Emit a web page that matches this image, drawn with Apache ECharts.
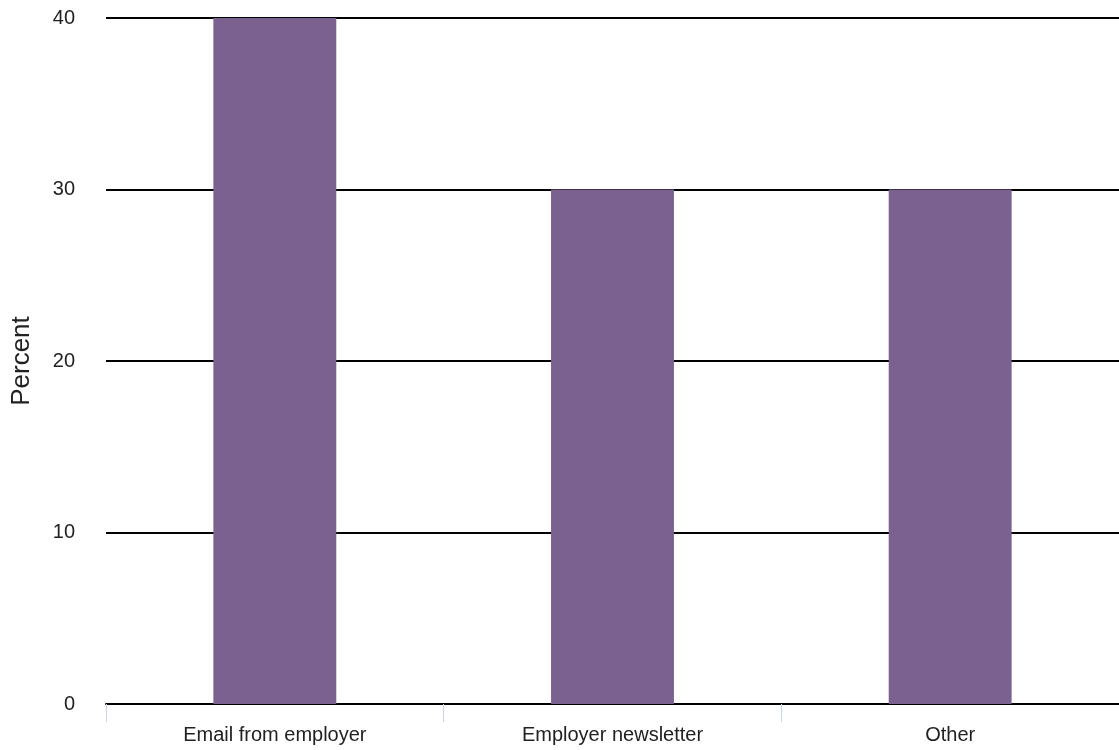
<!DOCTYPE html>
<html>
<head>
<meta charset="utf-8">
<script src="https://cdn.jsdelivr.net/npm/echarts@6/dist/echarts.min.js"></script>
<style>html,body{margin:0;padding:0;background:#fff;}#c{width:1119px;height:750px;}</style>
</head>
<body>
<div id="c"></div>
<script>
const categories = ["Email from employer", "Employer newsletter", "Other"];
const values = [40, 30, 30];
const yTicks = [0, 10, 20, 30, 40];

const chart = echarts.init(document.getElementById('c'), null, {renderer: 'canvas'});
chart.setOption({
  animation: false,
  backgroundColor: '#ffffff',
  grid: {left: 106, right: 0, top: 18, bottom: 46, containLabel: false},
  xAxis: {
    type: 'category',
    data: categories,
    axisLine: {show: true, lineStyle: {color: '#000', width: 2}},
    axisTick: {show: true, length: 18, lineStyle: {color: '#ccd6eb', width: 1}},
    axisLabel: {color: '#222', fontSize: 20, fontFamily: 'Liberation Sans, Arial, sans-serif', margin: 21}
  },
  yAxis: {
    type: 'value',
    min: yTicks[0],
    max: yTicks[yTicks.length - 1],
    interval: 10,
    name: 'Percent',
    nameLocation: 'middle',
    nameGap: 71,
    nameTextStyle: {color: '#222', fontSize: 26, fontFamily: 'Liberation Sans, Arial, sans-serif'},
    axisLine: {show: false},
    axisTick: {show: false},
    axisLabel: {color: '#222', fontSize: 20, fontFamily: 'Liberation Sans, Arial, sans-serif', margin: 31},
    splitLine: {show: true, lineStyle: {color: '#000', width: 2}}
  },
  series: [{
    type: 'bar',
    data: values,
    barWidth: '36.4%',
    itemStyle: {color: '#7b6190'}
  }]
});
</script>
</body>
</html>
